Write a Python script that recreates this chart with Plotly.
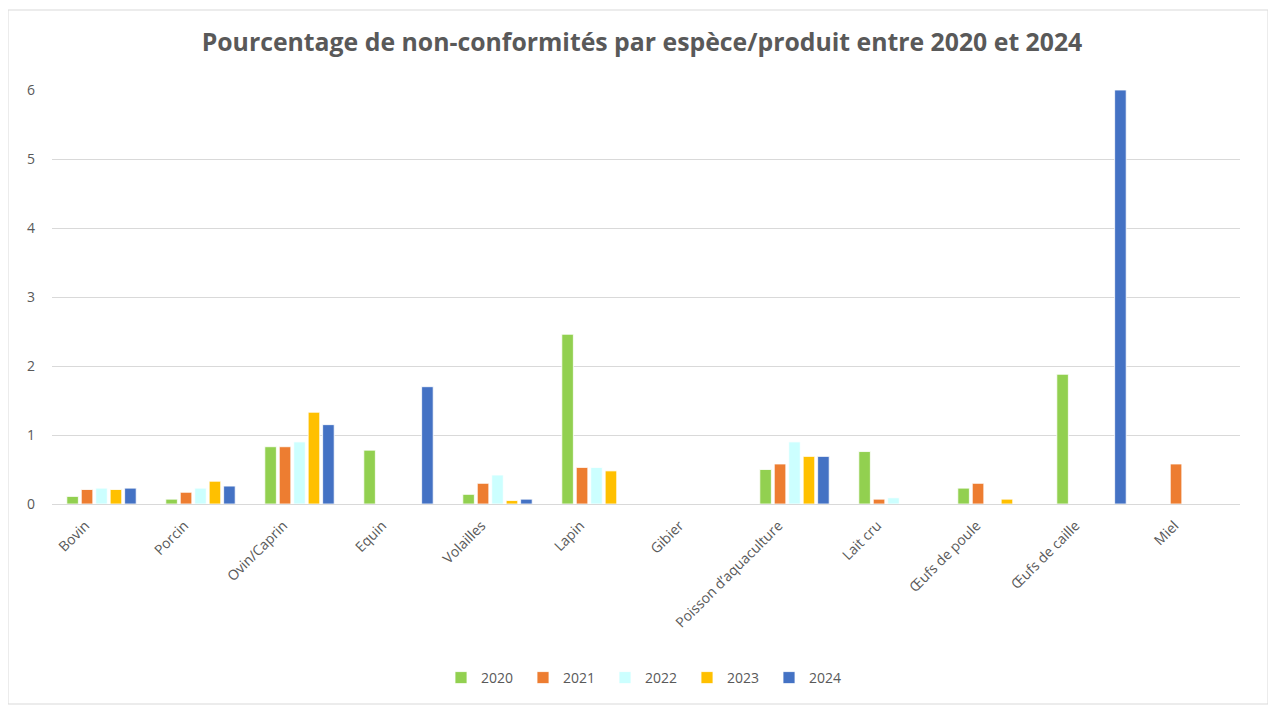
import plotly.graph_objects as go

categories = ["Bovin", "Porcin", "Ovin/Caprin", "Equin", "Volailles", "Lapin", "Gibier",
              "Poisson d’aquaculture", "Lait cru", "Œufs de poule", "Œufs de caille", "Miel"]
years = ["2020", "2021", "2022", "2023", "2024"]
v2020 = [0.11, 0.07, 0.83, 0.78, 0.14, 2.46, 0, 0.50, 0.76, 0.23, 1.88, 0]
v2021 = [0.21, 0.17, 0.83, 0, 0.30, 0.53, 0, 0.58, 0.07, 0.30, 0, 0.58]
v2022 = [0.23, 0.23, 0.90, 0, 0.42, 0.53, 0, 0.90, 0.09, 0, 0, 0]
v2023 = [0.21, 0.33, 1.33, 0, 0.05, 0.48, 0, 0.69, 0, 0.07, 0, 0]
v2024 = [0.23, 0.26, 1.15, 1.70, 0.07, 0, 0, 0.69, 0, 0, 6.0, 0]
colors = ["#92D050", "#ED7D31", "#CCFFFF", "#FFC000", "#4472C4"]

fig = go.Figure()
for name, vals, col in zip(years, [v2020, v2021, v2022, v2023, v2024], colors):
    fig.add_trace(go.Bar(x=categories, y=vals, name=name, marker_color=col,
                         marker_line=dict(color="rgba(255,255,255,0.8)", width=1)))

# page body has an 8px margin; figure is sized/offset to compensate
W, H = 1268, 700
fig.update_layout(
    width=W, height=H,
    paper_bgcolor="white", plot_bgcolor="white",
    barmode="group", bargap=0.27, bargroupgap=0.2,
    margin=dict(l=44, r=36, t=82, b=204),
    title=dict(text="<b>Pourcentage de non-conformités par espèce/produit entre 2020 et 2024</b>",
               x=0.5, xanchor="center", y=1 - 34/H, yanchor="middle",
               font=dict(family="Open Sans", size=24.8, color="#595959")),
    font=dict(family="Open Sans", color="#595959", size=13),
    legend=dict(orientation="h", x=0.5, xanchor="center", yref="container",
                y=1 - 670/H, yanchor="middle", font=dict(size=14, color="#595959"),
                itemwidth=30, entrywidth=37, entrywidthmode="pixels",
                traceorder="normal"),
    xaxis=dict(tickangle=-45, showgrid=False, showline=True, linecolor="#d9d9d9",
               linewidth=1, ticks="", ticklabelshift=-16, ticklabelstandoff=7,
               tickfont=dict(size=14, color="#595959")),
    yaxis=dict(range=[0, 6], dtick=1, showgrid=True, gridcolor="#d9d9d9", gridwidth=1,
               zeroline=False, showline=False, ticks="", ticklabelstandoff=16,
               tickfont=dict(size=14, color="#595959")),
    shapes=[dict(type="rect", xref="paper", yref="paper",
                 x0=-44/1188, x1=1 + 28/1188,
                 y0=-(204 - 4)/414, y1=1 + 80/414,
                 line=dict(color="#d9d9d9", width=1))],
)

fig.write_html("out.html")
